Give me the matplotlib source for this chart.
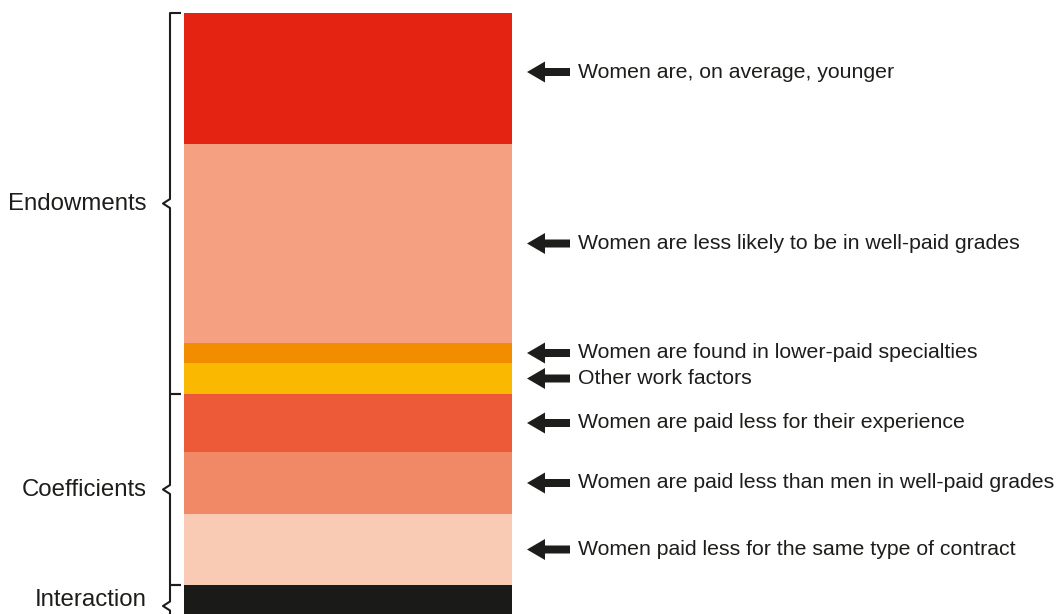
import numpy as np
import matplotlib
matplotlib.use("Agg")
import matplotlib.pyplot as plt


# ----------------------------------------------------------------------
# Data (share of the gap, top segment first)
# ----------------------------------------------------------------------
SEGMENT_VALUES = [13.1, 19.9, 2.0, 3.1, 5.8, 6.2, 7.1, 2.9]
SEGMENT_COLOURS = ["#e42312", "#f4a081", "#f28d00", "#fbb800",
                   "#ec5a38", "#f18866", "#f9cab4", "#1a1a18"]
SEGMENT_LABELS = [
    "Women are, on average, younger",
    "Women are less likely to be in well-paid grades",
    "Women are found in lower-paid specialties",
    "Other work factors",
    "Women are paid less for their experience",
    "Women are paid less than men in well-paid grades",
    "Women paid less for the same type of contract",
    None,
]
GROUP_NAMES = ["Endowments", "Coefficients", "Interaction"]
GROUP_SEGMENTS = [(0, 4), (4, 7), (7, 8)]

# ----------------------------------------------------------------------
# Layout (x in pixels, y in data units)
# ----------------------------------------------------------------------
BAR_CENTER = 348
BAR_WIDTH = 328
ARROW_TAIL = 570
ARROW_LEN = 43
TEXT_X = 578
BRACE_X = 170
BRACE_TICK = 181
BRACE_TIP = 163
GROUP_TEXT_X = 147
TEXT_COLOUR = "#1d1d1b"
FONT = "Liberation Sans"
FONT_SIZE = 15.3
GROUP_FONT_SIZE = 17.3
LABEL_NUDGE = {0: -0.65}


def draw_brace(ax, top, bottom, top_tick=True):
    mid = (top + bottom) / 2
    xs = [BRACE_X, BRACE_X, BRACE_TIP, BRACE_X, BRACE_X, BRACE_TICK]
    ys = [top, mid - 0.45, mid, mid + 0.45, bottom, bottom]
    if top_tick:
        xs = [BRACE_TICK] + xs
        ys = [top] + ys
    ax.plot(xs, ys, color=TEXT_COLOUR, linewidth=1.5,
            solid_joinstyle="round", solid_capstyle="butt")
    return mid


def main() -> None:
    values = np.array(SEGMENT_VALUES)
    bottoms = np.concatenate([[0], np.cumsum(values)[:-1]])
    total = values.sum()

    fig = plt.figure(figsize=(10.61, 6.14), dpi=100)
    ax = fig.add_axes([0, 0, 1, 1])
    ax.set_xlim(0, 1061)
    ax.set_ylim(total, -1.3)
    ax.axis("off")

    ax.bar(BAR_CENTER, values, bottom=bottoms, width=BAR_WIDTH,
           color=SEGMENT_COLOURS, linewidth=0)

    for i, label in enumerate(SEGMENT_LABELS):
        if label is None:
            continue
        y = bottoms[i] + values[i] / 2 + LABEL_NUDGE.get(i, 0)
        ax.arrow(ARROW_TAIL, y, -ARROW_LEN, 0, width=0.8, head_width=2.1,
                 head_length=18, length_includes_head=True,
                 color=TEXT_COLOUR, linewidth=0)
        ax.text(TEXT_X, y, label, ha="left", va="center",
                fontsize=FONT_SIZE, family=FONT, color=TEXT_COLOUR)

    for g, (name, (a, b)) in enumerate(zip(GROUP_NAMES, GROUP_SEGMENTS)):
        top = bottoms[a]
        bottom = bottoms[b - 1] + values[b - 1]
        if g == len(GROUP_NAMES) - 1:
            bottom = total + 1.3
        mid = draw_brace(ax, top, bottom, top_tick=True)
        if g == len(GROUP_NAMES) - 1:
            mid = top + 1.55
        ax.text(GROUP_TEXT_X, mid, name, ha="right", va="center",
                fontsize=GROUP_FONT_SIZE, family=FONT, color=TEXT_COLOUR)

    fig.savefig("out.png", dpi=100)
    plt.close(fig)


if __name__ == "__main__":
    main()
